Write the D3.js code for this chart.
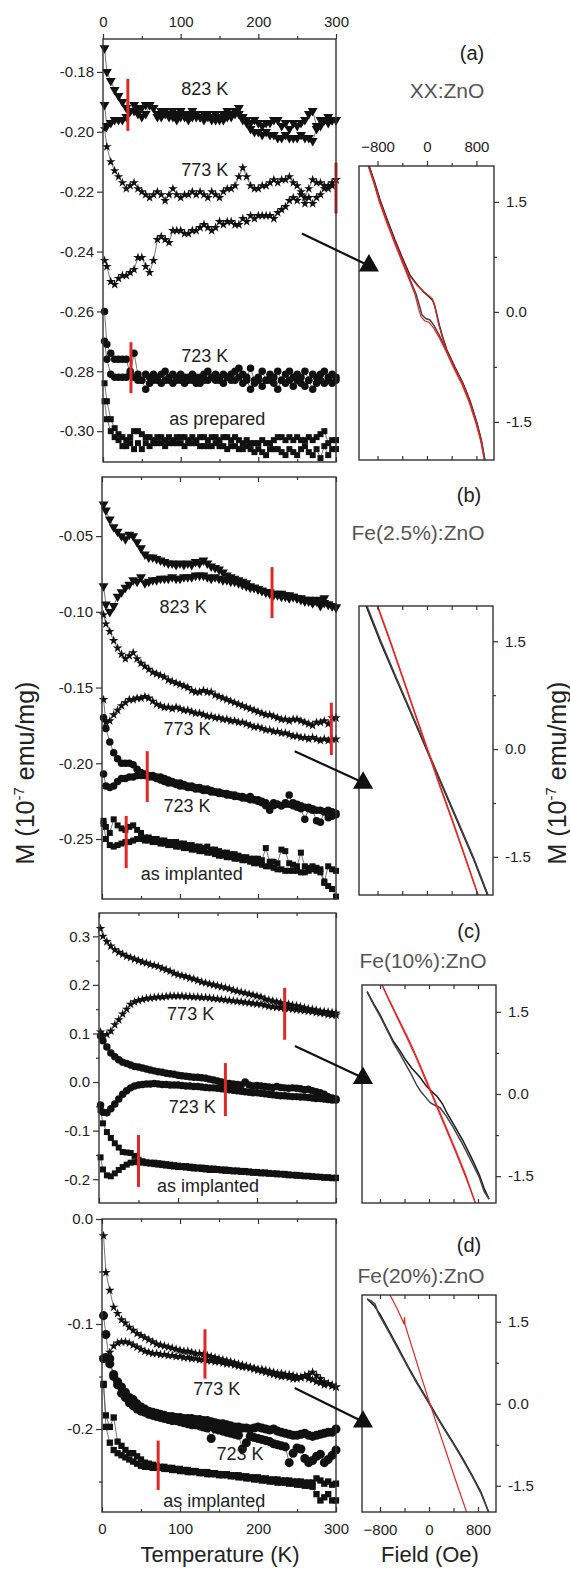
<!DOCTYPE html>
<html>
<head>
<meta charset="utf-8">
<script src="https://cdn.jsdelivr.net/npm/d3@7"></script>
<style>
body { margin: 0; background: #fff; }
svg text { font-family: "Liberation Sans", Arial, sans-serif; }
</style>
</head>
<body>
<svg id="fig" width="570" height="1574"></svg>
<script>

// temperature grid shared by every M(T) branch (K)
var temps = [2,5,10,15,20,25,30,35,40,45,
  50,55,60,65,70,75,80,85,90,95,
  100,105,110,115,120,125,130,135,140,145,
  150,155,160,165,170,175,180,185,190,195,
  200,205,210,215,220,225,230,235,240,245,
  250,255,260,265,270,275,280,285,290,295,300];

// ---- panel (a) XX:ZnO, M in 1e-7 emu/mg ----
var a823hi = [-0.172,-0.180,-0.183,-0.186,-0.188,-0.190,-0.192,-0.193,-0.191,-0.194,
  -0.192,-0.191,-0.191,-0.192,-0.194,-0.193,-0.193,-0.194,-0.193,-0.194,
  -0.193,-0.194,-0.194,-0.193,-0.194,-0.195,-0.194,-0.194,-0.195,-0.194,
  -0.195,-0.194,-0.193,-0.194,-0.193,-0.192,-0.195,-0.197,-0.199,-0.200,
  -0.200,-0.201,-0.200,-0.201,-0.201,-0.202,-0.202,-0.201,-0.202,-0.202,
  -0.202,-0.201,-0.202,-0.202,-0.203,-0.199,-0.198,-0.196,-0.197,-0.196,-0.196];
var a823lo = [-0.191,-0.198,-0.197,-0.196,-0.196,-0.196,-0.195,-0.193,-0.193,-0.192,
  -0.195,-0.194,-0.191,-0.192,-0.195,-0.195,-0.194,-0.195,-0.195,-0.196,
  -0.195,-0.195,-0.196,-0.195,-0.195,-0.195,-0.196,-0.195,-0.196,-0.196,
  -0.196,-0.196,-0.195,-0.195,-0.194,-0.194,-0.196,-0.196,-0.197,-0.196,
  -0.197,-0.198,-0.197,-0.197,-0.196,-0.196,-0.198,-0.197,-0.199,-0.197,
  -0.198,-0.197,-0.196,-0.194,-0.193,-0.198,-0.196,-0.196,-0.195,-0.196,-0.196];
var a773hi = [-0.199,-0.205,-0.210,-0.213,-0.215,-0.217,-0.219,-0.218,-0.217,-0.219,
  -0.220,-0.221,-0.222,-0.221,-0.220,-0.221,-0.223,-0.221,-0.219,-0.221,
  -0.222,-0.221,-0.221,-0.220,-0.221,-0.220,-0.221,-0.222,-0.220,-0.221,
  -0.222,-0.220,-0.219,-0.219,-0.218,-0.215,-0.212,-0.215,-0.218,-0.219,
  -0.219,-0.218,-0.218,-0.217,-0.216,-0.217,-0.216,-0.216,-0.215,-0.217,
  -0.218,-0.220,-0.222,-0.219,-0.216,-0.217,-0.217,-0.218,-0.219,-0.218,-0.216];
var a773lo = [-0.243,-0.245,-0.250,-0.251,-0.249,-0.248,-0.248,-0.247,-0.246,-0.242,
  -0.242,-0.245,-0.247,-0.243,-0.236,-0.235,-0.236,-0.237,-0.233,-0.233,
  -0.233,-0.234,-0.234,-0.233,-0.233,-0.232,-0.231,-0.232,-0.233,-0.232,
  -0.230,-0.231,-0.230,-0.230,-0.231,-0.231,-0.229,-0.230,-0.228,-0.229,
  -0.228,-0.228,-0.228,-0.228,-0.229,-0.227,-0.226,-0.225,-0.223,-0.222,
  -0.223,-0.221,-0.224,-0.222,-0.224,-0.222,-0.221,-0.219,-0.218,-0.217,-0.216];
var a723hi = [-0.260,-0.271,-0.274,-0.276,-0.276,-0.276,-0.276,-0.281,-0.274,-0.281,
  -0.283,-0.281,-0.282,-0.281,-0.282,-0.281,-0.280,-0.282,-0.281,-0.282,
  -0.281,-0.282,-0.282,-0.281,-0.282,-0.282,-0.281,-0.280,-0.282,-0.281,
  -0.282,-0.281,-0.282,-0.281,-0.280,-0.279,-0.281,-0.282,-0.279,-0.283,
  -0.282,-0.280,-0.283,-0.281,-0.282,-0.280,-0.283,-0.281,-0.280,-0.282,
  -0.281,-0.282,-0.280,-0.283,-0.281,-0.282,-0.281,-0.280,-0.282,-0.281,-0.282];
var a723lo = [-0.270,-0.276,-0.281,-0.282,-0.282,-0.282,-0.282,-0.280,-0.282,-0.283,
  -0.283,-0.286,-0.284,-0.283,-0.283,-0.284,-0.283,-0.283,-0.284,-0.283,
  -0.283,-0.284,-0.283,-0.283,-0.284,-0.284,-0.283,-0.283,-0.282,-0.283,
  -0.283,-0.284,-0.282,-0.283,-0.283,-0.282,-0.284,-0.283,-0.286,-0.284,
  -0.283,-0.285,-0.283,-0.283,-0.284,-0.286,-0.283,-0.284,-0.283,-0.285,
  -0.283,-0.284,-0.285,-0.283,-0.286,-0.284,-0.283,-0.284,-0.283,-0.284,-0.283];
var aPrepHi = [-0.284,-0.290,-0.296,-0.299,-0.301,-0.302,-0.303,-0.302,-0.300,-0.300,
  -0.301,-0.302,-0.302,-0.303,-0.302,-0.302,-0.303,-0.302,-0.303,-0.302,
  -0.302,-0.302,-0.303,-0.302,-0.303,-0.302,-0.302,-0.303,-0.302,-0.302,
  -0.303,-0.302,-0.302,-0.303,-0.302,-0.303,-0.304,-0.303,-0.304,-0.304,
  -0.304,-0.303,-0.304,-0.304,-0.303,-0.302,-0.302,-0.303,-0.302,-0.303,
  -0.302,-0.303,-0.303,-0.302,-0.303,-0.302,-0.301,-0.300,-0.304,-0.303,-0.303];
var aPrepLo = [-0.290,-0.296,-0.300,-0.302,-0.303,-0.305,-0.305,-0.304,-0.306,-0.304,
  -0.306,-0.304,-0.305,-0.304,-0.304,-0.304,-0.305,-0.304,-0.304,-0.304,
  -0.304,-0.305,-0.304,-0.304,-0.304,-0.305,-0.305,-0.305,-0.305,-0.304,
  -0.305,-0.305,-0.306,-0.305,-0.305,-0.306,-0.306,-0.305,-0.306,-0.307,
  -0.306,-0.307,-0.308,-0.306,-0.306,-0.306,-0.307,-0.308,-0.306,-0.307,
  -0.308,-0.306,-0.305,-0.307,-0.308,-0.306,-0.309,-0.305,-0.308,-0.306,-0.306];

// ---- panel (b) Fe(2.5%):ZnO ----
var b823hi = [-0.029,-0.033,-0.039,-0.044,-0.047,-0.050,-0.052,-0.049,-0.050,-0.054,
  -0.058,-0.062,-0.064,-0.064,-0.065,-0.066,-0.067,-0.068,-0.068,-0.069,
  -0.068,-0.069,-0.068,-0.069,-0.067,-0.068,-0.066,-0.068,-0.070,-0.071,
  -0.072,-0.074,-0.076,-0.077,-0.078,-0.079,-0.080,-0.081,-0.083,-0.084,
  -0.085,-0.086,-0.087,-0.088,-0.089,-0.089,-0.090,-0.090,-0.091,-0.090,
  -0.091,-0.092,-0.093,-0.092,-0.094,-0.093,-0.096,-0.091,-0.095,-0.096,-0.097];
var b823lo = [-0.083,-0.095,-0.100,-0.096,-0.090,-0.087,-0.084,-0.082,-0.079,-0.080,
  -0.077,-0.081,-0.080,-0.079,-0.079,-0.078,-0.078,-0.078,-0.077,-0.078,
  -0.078,-0.077,-0.077,-0.077,-0.076,-0.076,-0.076,-0.077,-0.078,-0.077,
  -0.078,-0.079,-0.079,-0.080,-0.080,-0.081,-0.082,-0.083,-0.084,-0.084,
  -0.085,-0.086,-0.087,-0.087,-0.088,-0.088,-0.088,-0.089,-0.089,-0.090,
  -0.091,-0.091,-0.092,-0.093,-0.094,-0.092,-0.093,-0.094,-0.095,-0.096,-0.097];
var b773hi = [-0.102,-0.108,-0.113,-0.119,-0.124,-0.128,-0.131,-0.129,-0.127,-0.131,
  -0.134,-0.136,-0.138,-0.140,-0.141,-0.142,-0.143,-0.145,-0.146,-0.147,
  -0.148,-0.149,-0.150,-0.152,-0.153,-0.153,-0.152,-0.153,-0.153,-0.155,
  -0.156,-0.157,-0.158,-0.159,-0.160,-0.161,-0.162,-0.163,-0.164,-0.165,
  -0.166,-0.167,-0.168,-0.168,-0.169,-0.170,-0.171,-0.171,-0.172,-0.171,
  -0.171,-0.172,-0.173,-0.174,-0.175,-0.173,-0.173,-0.172,-0.174,-0.170,-0.170];
var b773lo = [-0.158,-0.173,-0.172,-0.168,-0.165,-0.162,-0.160,-0.158,-0.158,-0.157,
  -0.157,-0.156,-0.157,-0.159,-0.161,-0.162,-0.163,-0.163,-0.164,-0.163,
  -0.164,-0.165,-0.165,-0.166,-0.167,-0.167,-0.168,-0.169,-0.169,-0.170,
  -0.170,-0.171,-0.171,-0.172,-0.172,-0.173,-0.173,-0.174,-0.175,-0.176,
  -0.176,-0.177,-0.178,-0.178,-0.179,-0.179,-0.180,-0.180,-0.181,-0.182,
  -0.182,-0.183,-0.183,-0.184,-0.183,-0.184,-0.185,-0.184,-0.185,-0.184,-0.184];
var b723hi = [-0.170,-0.177,-0.186,-0.193,-0.197,-0.200,-0.200,-0.200,-0.201,-0.204,
  -0.206,-0.207,-0.208,-0.208,-0.209,-0.209,-0.210,-0.211,-0.212,-0.213,
  -0.213,-0.214,-0.215,-0.215,-0.216,-0.216,-0.217,-0.217,-0.218,-0.219,
  -0.219,-0.220,-0.220,-0.221,-0.221,-0.222,-0.222,-0.223,-0.222,-0.224,
  -0.224,-0.225,-0.226,-0.231,-0.226,-0.227,-0.228,-0.226,-0.221,-0.228,
  -0.229,-0.230,-0.237,-0.230,-0.231,-0.238,-0.239,-0.232,-0.236,-0.235,-0.234];
var b723lo = [-0.207,-0.215,-0.216,-0.215,-0.212,-0.210,-0.210,-0.209,-0.209,-0.208,
  -0.208,-0.208,-0.209,-0.209,-0.210,-0.211,-0.212,-0.213,-0.213,-0.214,
  -0.215,-0.215,-0.216,-0.216,-0.217,-0.217,-0.218,-0.218,-0.219,-0.219,
  -0.220,-0.220,-0.221,-0.221,-0.222,-0.222,-0.223,-0.223,-0.224,-0.224,
  -0.225,-0.226,-0.228,-0.228,-0.228,-0.227,-0.228,-0.227,-0.227,-0.226,
  -0.227,-0.228,-0.229,-0.229,-0.230,-0.231,-0.231,-0.232,-0.231,-0.232,-0.233];
var bImpHi = [-0.238,-0.242,-0.246,-0.237,-0.241,-0.243,-0.244,-0.242,-0.241,-0.244,
  -0.246,-0.249,-0.249,-0.250,-0.250,-0.251,-0.251,-0.252,-0.252,-0.252,
  -0.253,-0.253,-0.254,-0.254,-0.255,-0.255,-0.256,-0.255,-0.257,-0.257,
  -0.258,-0.259,-0.259,-0.260,-0.260,-0.261,-0.262,-0.262,-0.263,-0.263,
  -0.263,-0.264,-0.256,-0.265,-0.265,-0.266,-0.257,-0.258,-0.266,-0.267,
  -0.268,-0.259,-0.268,-0.269,-0.268,-0.269,-0.270,-0.278,-0.268,-0.270,-0.271];
var bImpLo = [-0.240,-0.250,-0.254,-0.255,-0.254,-0.253,-0.252,-0.252,-0.251,-0.250,
  -0.250,-0.251,-0.251,-0.252,-0.252,-0.253,-0.253,-0.254,-0.254,-0.255,
  -0.255,-0.256,-0.256,-0.257,-0.257,-0.258,-0.258,-0.259,-0.259,-0.260,
  -0.261,-0.261,-0.262,-0.262,-0.263,-0.263,-0.264,-0.264,-0.265,-0.266,
  -0.266,-0.267,-0.268,-0.268,-0.269,-0.270,-0.270,-0.271,-0.271,-0.271,
  -0.271,-0.272,-0.272,-0.271,-0.270,-0.271,-0.272,-0.279,-0.281,-0.283,-0.288];

// ---- panel (c) Fe(10%):ZnO ----
var c773hi = [0.316,0.300,0.289,0.280,0.272,0.267,0.263,0.259,0.256,0.253,
  0.250,0.247,0.245,0.242,0.240,0.238,0.234,0.231,0.228,0.224,
  0.221,0.219,0.217,0.214,0.212,0.209,0.206,0.204,0.202,0.200,
  0.198,0.196,0.194,0.192,0.189,0.187,0.185,0.183,0.181,0.179,
  0.177,0.175,0.171,0.169,0.167,0.165,0.163,0.162,0.160,0.158,
  0.157,0.155,0.153,0.151,0.150,0.148,0.146,0.145,0.144,0.143,0.142];
var c773lo = [0.103,0.097,0.098,0.105,0.118,0.128,0.140,0.150,0.160,0.165,
  0.168,0.170,0.172,0.173,0.174,0.175,0.175,0.176,0.177,0.177,
  0.177,0.177,0.176,0.176,0.175,0.175,0.174,0.174,0.173,0.172,
  0.171,0.170,0.169,0.168,0.167,0.166,0.165,0.164,0.163,0.162,
  0.161,0.160,0.158,0.156,0.155,0.154,0.153,0.152,0.151,0.150,
  0.149,0.148,0.147,0.146,0.145,0.143,0.142,0.141,0.139,0.138,0.138];
var c723hi = [0.095,0.085,0.072,0.060,0.052,0.046,0.041,0.038,0.035,0.032,
  0.031,0.029,0.027,0.025,0.023,0.021,0.020,0.018,0.017,0.016,
  0.014,0.013,0.012,0.011,0.010,0.010,0.009,0.008,0.006,0.004,
  0.002,0.000,-0.002,-0.003,-0.004,-0.005,-0.006,0.000,-0.006,-0.008,
  -0.007,-0.008,-0.009,-0.010,-0.011,-0.009,-0.011,-0.012,-0.013,-0.012,
  -0.013,-0.014,-0.016,-0.015,-0.018,-0.020,-0.022,-0.025,-0.030,-0.033,-0.035];
var c723lo = [-0.047,-0.062,-0.063,-0.055,-0.045,-0.035,-0.025,-0.018,-0.012,-0.008,
  -0.006,-0.005,-0.004,-0.004,-0.003,-0.004,-0.005,-0.005,-0.006,-0.006,
  -0.006,-0.007,-0.008,-0.008,-0.009,-0.009,-0.010,-0.011,-0.012,-0.012,
  -0.013,-0.014,-0.015,-0.016,-0.017,-0.018,-0.019,-0.020,-0.021,-0.022,
  -0.022,-0.023,-0.024,-0.025,-0.026,-0.027,-0.028,-0.028,-0.029,-0.030,
  -0.030,-0.031,-0.031,-0.032,-0.033,-0.034,-0.034,-0.035,-0.036,-0.037,-0.037];
var cImpHi = [-0.058,-0.085,-0.103,-0.115,-0.126,-0.135,-0.144,-0.145,-0.146,-0.152,
  -0.160,-0.163,-0.165,-0.166,-0.166,-0.167,-0.168,-0.169,-0.170,-0.171,
  -0.172,-0.173,-0.173,-0.174,-0.175,-0.176,-0.176,-0.177,-0.178,-0.178,
  -0.179,-0.180,-0.180,-0.181,-0.182,-0.182,-0.183,-0.183,-0.184,-0.185,
  -0.185,-0.186,-0.186,-0.187,-0.188,-0.188,-0.189,-0.189,-0.190,-0.191,
  -0.191,-0.192,-0.193,-0.193,-0.194,-0.195,-0.195,-0.196,-0.196,-0.197,-0.197];
var cImpLo = [-0.155,-0.180,-0.192,-0.194,-0.188,-0.181,-0.175,-0.170,-0.166,-0.165,
  -0.165,-0.166,-0.167,-0.168,-0.169,-0.170,-0.171,-0.172,-0.173,-0.174,
  -0.175,-0.175,-0.176,-0.177,-0.178,-0.178,-0.179,-0.180,-0.181,-0.181,
  -0.181,-0.182,-0.183,-0.183,-0.184,-0.184,-0.185,-0.185,-0.186,-0.187,
  -0.187,-0.188,-0.188,-0.189,-0.189,-0.190,-0.190,-0.191,-0.192,-0.192,
  -0.193,-0.193,-0.194,-0.194,-0.195,-0.195,-0.196,-0.197,-0.197,-0.198,-0.198];

// ---- panel (d) Fe(20%):ZnO ----
var d773hi = [-0.016,-0.051,-0.068,-0.084,-0.090,-0.096,-0.099,-0.103,-0.106,-0.109,
  -0.111,-0.113,-0.115,-0.117,-0.119,-0.120,-0.121,-0.122,-0.123,-0.124,
  -0.125,-0.126,-0.126,-0.127,-0.128,-0.128,-0.129,-0.130,-0.131,-0.132,
  -0.133,-0.134,-0.135,-0.136,-0.137,-0.138,-0.139,-0.140,-0.141,-0.142,
  -0.143,-0.143,-0.144,-0.145,-0.146,-0.147,-0.147,-0.148,-0.148,-0.149,
  -0.150,-0.151,-0.150,-0.148,-0.146,-0.149,-0.152,-0.155,-0.157,-0.158,-0.160];
var d773lo = [-0.132,-0.133,-0.127,-0.121,-0.118,-0.117,-0.117,-0.118,-0.120,-0.122,
  -0.124,-0.126,-0.127,-0.128,-0.128,-0.129,-0.129,-0.130,-0.130,-0.131,
  -0.131,-0.132,-0.132,-0.133,-0.133,-0.134,-0.134,-0.135,-0.135,-0.136,
  -0.136,-0.137,-0.138,-0.138,-0.139,-0.140,-0.141,-0.141,-0.142,-0.143,
  -0.144,-0.145,-0.146,-0.147,-0.148,-0.149,-0.150,-0.150,-0.151,-0.152,
  -0.152,-0.151,-0.149,-0.152,-0.153,-0.155,-0.156,-0.158,-0.157,-0.159,-0.160];
var d723hi = [-0.092,-0.110,-0.138,-0.148,-0.155,-0.160,-0.165,-0.170,-0.172,-0.176,
  -0.179,-0.181,-0.183,-0.184,-0.185,-0.186,-0.187,-0.188,-0.188,-0.189,
  -0.189,-0.190,-0.190,-0.190,-0.191,-0.191,-0.192,-0.192,-0.193,-0.194,
  -0.195,-0.195,-0.196,-0.197,-0.198,-0.198,-0.199,-0.199,-0.200,-0.199,
  -0.198,-0.199,-0.200,-0.201,-0.200,-0.202,-0.203,-0.204,-0.205,-0.206,
  -0.206,-0.205,-0.204,-0.206,-0.207,-0.206,-0.205,-0.204,-0.203,-0.203,-0.200];
var d723lo = [-0.133,-0.132,-0.133,-0.150,-0.158,-0.166,-0.170,-0.175,-0.178,-0.181,
  -0.183,-0.184,-0.186,-0.187,-0.188,-0.189,-0.190,-0.191,-0.192,-0.192,
  -0.193,-0.194,-0.195,-0.196,-0.196,-0.197,-0.198,-0.199,-0.209,-0.200,
  -0.201,-0.202,-0.203,-0.204,-0.205,-0.206,-0.219,-0.213,-0.207,-0.208,
  -0.209,-0.210,-0.211,-0.212,-0.214,-0.215,-0.216,-0.217,-0.232,-0.223,
  -0.218,-0.219,-0.228,-0.232,-0.230,-0.226,-0.224,-0.232,-0.229,-0.225,-0.220];
var dImpHi = [-0.158,-0.187,-0.198,-0.189,-0.212,-0.216,-0.220,-0.223,-0.223,-0.226,
  -0.229,-0.232,-0.233,-0.234,-0.235,-0.236,-0.236,-0.237,-0.237,-0.238,
  -0.238,-0.239,-0.239,-0.240,-0.240,-0.241,-0.241,-0.241,-0.242,-0.242,
  -0.243,-0.243,-0.243,-0.244,-0.244,-0.244,-0.245,-0.245,-0.246,-0.246,
  -0.246,-0.247,-0.247,-0.248,-0.248,-0.248,-0.249,-0.249,-0.249,-0.250,
  -0.250,-0.250,-0.251,-0.251,-0.251,-0.247,-0.249,-0.252,-0.250,-0.253,-0.252];
var dImpLo = [-0.157,-0.198,-0.213,-0.220,-0.223,-0.225,-0.227,-0.229,-0.231,-0.233,
  -0.235,-0.236,-0.236,-0.237,-0.237,-0.237,-0.238,-0.238,-0.239,-0.239,
  -0.240,-0.240,-0.241,-0.241,-0.241,-0.242,-0.242,-0.243,-0.243,-0.243,
  -0.244,-0.244,-0.244,-0.245,-0.245,-0.246,-0.246,-0.247,-0.247,-0.248,
  -0.248,-0.249,-0.249,-0.250,-0.250,-0.251,-0.251,-0.251,-0.252,-0.252,
  -0.253,-0.253,-0.254,-0.254,-0.255,-0.262,-0.268,-0.265,-0.262,-0.268,-0.268];

// red markers [T, M from, M to]
var barsA = [[32,-0.1823,-0.1997],[300,-0.2103,-0.2273],[36,-0.2703,-0.2873]];
var barsB = [[218,-0.0705,-0.1041],[294,-0.160,-0.1946],[58,-0.192,-0.2256],[31,-0.2348,-0.2692]];
var barsC = [[235,0.194,0.087],[160,0.039,-0.070],[50,-0.109,-0.216]];
var barsD = [[132,-0.105,-0.152],[72,-0.211,-0.258]];

// curve names [text, T, M]
var namesA = [["823 K",131,-0.1877],["773 K",131,-0.2147],["723 K",131,-0.277],["as prepared",147,-0.298]];
var namesB = [["823 K",104,-0.1008],["773 K",109,-0.1814],["723 K",109,-0.2322],["as implanted",115,-0.277]];
var namesC = [["773 K",116,0.128],["723 K",118,-0.064],["as implanted",138,-0.227]];
var namesD = [["773 K",147,-0.1676],["723 K",177,-0.2295],["as implanted",144,-0.274]];

var tempTicks = [0,100,200,300];
var tempMinor = [50,150,250];

// ---- hysteresis insets, [field Oe, M] ----
var loopAk1 = [[-937,1.99],[-850,1.78],[-760,1.53],[-640,1.25],[-517,0.98],[-400,0.74],[-275,0.50],[-150,0.36],[-40,0.26],[40,0.20],[90,0.16],[120,0.10],[150,0.0],[200,-0.18],[260,-0.36],[323,-0.52],[450,-0.75],[582,-0.97],[700,-1.22],[808,-1.51],[880,-1.75],[937,-2.02]];
var loopAk2 = [[-937,1.99],[-850,1.76],[-760,1.50],[-640,1.22],[-517,0.95],[-400,0.70],[-275,0.44],[-180,0.25],[-120,0.08],[-81,-0.04],[-20,-0.09],[48,-0.11],[110,-0.18],[200,-0.32],[323,-0.54],[450,-0.77],[582,-0.99],[700,-1.24],[808,-1.53],[880,-1.76],[937,-2.02]];
var loopAr1 = [[-950,1.99],[-862,1.78],[-772,1.53],[-652,1.25],[-530,0.98],[-412,0.74],[-288,0.50],[-165,0.37],[-55,0.28],[30,0.22],[85,0.18],[112,0.12],[140,0.02],[190,-0.17],[250,-0.35],[315,-0.52],[440,-0.75],[572,-0.97],[690,-1.22],[800,-1.51],[872,-1.75],[930,-2.02]];
var loopAr2 = [[-950,1.99],[-862,1.76],[-772,1.50],[-652,1.22],[-530,0.95],[-412,0.70],[-288,0.44],[-195,0.24],[-140,0.06],[-100,-0.06],[-40,-0.12],[30,-0.14],[100,-0.21],[192,-0.34],[315,-0.55],[440,-0.78],[572,-1.00],[690,-1.25],[800,-1.54],[872,-1.77],[930,-2.02]];

var loopBk1 = [[-990,2.0],[-760,1.5],[-500,0.98],[-250,0.48],[0,-0.02],[250,-0.52],[500,-1.02],[750,-1.52],[980,-2.03]];
var loopBk2 = [[-975,2.0],[-745,1.5],[-490,0.98],[-240,0.48],[10,-0.02],[260,-0.52],[510,-1.02],[760,-1.52],[990,-2.03]];
var loopBr1 = [[-810,2.0],[-600,1.5],[-400,1.0],[-200,0.5],[0,0.0],[200,-0.5],[410,-1.0],[620,-1.52],[825,-2.03]];
var loopBr2 = [[-800,2.0],[-590,1.5],[-390,1.0],[-190,0.5],[10,0.0],[210,-0.5],[420,-1.0],[630,-1.52],[830,-2.03]];

var loopCk1 = [[-1010,1.87],[-900,1.64],[-800,1.45],[-700,1.22],[-590,0.98],[-480,0.80],[-380,0.62],[-280,0.47],[-150,0.31],[-40,0.14],[60,0.03],[130,-0.04],[220,-0.18],[300,-0.36],[400,-0.55],[550,-0.84],[700,-1.18],[820,-1.47],[900,-1.72],[980,-1.92]];
var loopCk2 = [[-1010,1.87],[-900,1.62],[-800,1.42],[-700,1.20],[-590,0.95],[-480,0.74],[-380,0.54],[-280,0.34],[-200,0.16],[-130,0.04],[-40,-0.08],[20,-0.16],[100,-0.21],[180,-0.25],[280,-0.40],[400,-0.62],[550,-0.92],[700,-1.25],[820,-1.52],[900,-1.78],[980,-1.92]];
var loopCr1 = [[-770,2.0],[-650,1.72],[-500,1.38],[-350,1.04],[-250,0.80],[-150,0.54],[-60,0.30],[0,0.14],[60,-0.02],[150,-0.26],[300,-0.66],[450,-1.06],[600,-1.48],[770,-2.03]];
var loopCr2 = [[-770,2.0],[-650,1.70],[-500,1.35],[-350,1.00],[-250,0.76],[-150,0.50],[-60,0.26],[0,0.10],[60,-0.05],[150,-0.30],[300,-0.70],[450,-1.10],[600,-1.52],[770,-2.03]];

var loopDk1 = [[-1010,1.92],[-900,1.80],[-800,1.64],[-650,1.33],[-500,1.02],[-350,0.70],[-200,0.40],[-50,0.12],[100,-0.17],[250,-0.45],[400,-0.72],[550,-1.00],[700,-1.30],[850,-1.62],[980,-2.0]];
var loopDk2 = [[-1010,1.92],[-940,1.88],[-880,1.82],[-830,1.66],[-790,1.58],[-650,1.30],[-500,0.99],[-350,0.68],[-200,0.38],[-50,0.10],[100,-0.19],[250,-0.47],[400,-0.74],[550,-1.02],[700,-1.32],[850,-1.64],[980,-2.0]];
var loopDr1 = [[-640,2.0],[-520,1.74],[-430,1.52],[-410,1.46],[-400,1.58],[-392,1.45],[-300,1.12],[-150,0.58],[0,0.05],[150,-0.45],[300,-0.95],[450,-1.45],[620,-2.0]];

var fieldTicks = [-800,0,800];
var fieldMinor = [-400,400];
var loopTicks = [-1.5,0,1.5];
var loopMinor = [-0.75,0.75];

var svg = d3.select("#fig");
var ink = "#222";
var red = "#e02828";

var symType = {tri: d3.symbolTriangle, star: d3.symbolStar, circle: d3.symbolCircle, square: d3.symbolSquare};
var symSize = {tri: 42, star: 28, circle: 44, square: 36};

var panels = [
  {left:103, right:336, top:39, bottom:462, yDom:[-0.3103,-0.169], yTicks:[-0.30,-0.28,-0.26,-0.24,-0.22,-0.20,-0.18], yMinor:[], dec:2, topLabels:true,
   series:[{m:a823hi,s:"tri"},{m:a823lo,s:"tri"},{m:a773hi,s:"star"},{m:a773lo,s:"star"},{m:a723hi,s:"circle"},{m:a723lo,s:"circle"},{m:aPrepHi,s:"square"},{m:aPrepLo,s:"square"}],
   bars:barsA, names:namesA},
  {left:102, right:336, top:477, bottom:899, yDom:[-0.2896,-0.011], yTicks:[-0.25,-0.20,-0.15,-0.10,-0.05], yMinor:[], dec:2,
   series:[{m:b823hi,s:"tri"},{m:b823lo,s:"tri"},{m:b773hi,s:"star"},{m:b773lo,s:"star"},{m:b723hi,s:"circle"},{m:b723lo,s:"circle"},{m:bImpHi,s:"square"},{m:bImpLo,s:"square"}],
   bars:barsB, names:namesB},
  {left:99, right:336, top:913, bottom:1203, yDom:[-0.249,0.348], yTicks:[-0.2,-0.1,0.0,0.1,0.2,0.3], yMinor:[-0.15,-0.05,0.05,0.15,0.25], dec:1,
   series:[{m:c773hi,s:"star"},{m:c773lo,s:"star"},{m:c723hi,s:"circle"},{m:c723lo,s:"circle"},{m:cImpHi,s:"square"},{m:cImpLo,s:"square"}],
   bars:barsC, names:namesC},
  {left:102, right:336, top:1219, bottom:1512, yDom:[-0.279,0.0], yTicks:[-0.2,-0.1,0.0], yMinor:[-0.25,-0.15,-0.05], dec:1, bottomLabels:true,
   series:[{m:d773hi,s:"star"},{m:d773lo,s:"star"},{m:d723hi,s:"circle",size:64},{m:d723lo,s:"circle",size:64},{m:dImpHi,s:"square",size:40},{m:dImpLo,s:"square",size:40}],
   bars:barsD, names:namesD}
];

var insets = [
  {left:359, right:494, top:166, bottom:460, hDom:[-1100,1085], mDom:[-2.02,1.99], topLabels:true,
   black:[loopAk1,loopAk2], red:[loopAr1,loopAr2]},
  {left:359, right:493, top:606, bottom:895, hDom:[-1100,1070], mDom:[-2.03,1.99],
   black:[loopBk1,loopBk2], red:[loopBr1,loopBr2]},
  {left:362, right:496, top:985, bottom:1203, hDom:[-1094,1094], mDom:[-1.99,1.99],
   black:[loopCk1,loopCk2], red:[loopCr1,loopCr2]},
  {left:362, right:496, top:1295, bottom:1512, hDom:[-1094,1094], mDom:[-1.98,1.99], bottomLabels:true,
   black:[loopDk1,loopDk2], red:[loopDr1]}
];

// arrows from a point on the M(T) curve to the matching loop inset
var arrows = [
  {t:256, m:-0.234, h:-940, mi:0.63},
  {t:247, m:-0.192, h:-1034, mi:-0.47},
  {t:248, m:0.074, h:-1078, mi:0.29},
  {t:247, m:-0.161, h:-1078, mi:-0.33}
];

function styleAxis(g) {
  g.select(".domain").remove();
  g.attr("font-size", 15).attr("font-family", "Liberation Sans, Arial, sans-serif");
  g.selectAll(".tick line").attr("stroke", "#333").attr("stroke-width", 1.2);
  g.selectAll(".tick text").attr("fill", ink);
}

function fmt(dec) { return function(d) { return d.toFixed(dec); }; }

panels.forEach(function(p) {
  var x = d3.scaleLinear().domain([0, 300]).range([p.left, p.right]);
  var y = d3.scaleLinear().domain(p.yDom).range([p.bottom, p.top]);
  p.x = x; p.y = y;
  var g = svg.append("g");

  var line = d3.line()
    .x(function(d, i) { return x(temps[i]); })
    .y(function(d) { return y(d); });

  p.series.forEach(function(s) {
    g.append("path").datum(s.m)
      .attr("d", line)
      .attr("fill", "none")
      .attr("stroke", "#555")
      .attr("stroke-width", 0.8);
  });
  p.series.forEach(function(s) {
    var sym = d3.symbol().type(symType[s.s]).size(s.size || symSize[s.s]);
    g.selectAll(null).data(s.m).enter().append("path")
      .attr("d", sym)
      .attr("fill", "#111")
      .attr("transform", function(d, i) {
        return "translate(" + x(temps[i]) + "," + y(d) + ")" + (s.s == "tri" ? " rotate(180)" : "");
      });
  });

  g.selectAll(null).data(p.bars).enter().append("line")
    .attr("x1", function(d) { return x(d[0]); })
    .attr("x2", function(d) { return x(d[0]); })
    .attr("y1", function(d) { return y(d[1]); })
    .attr("y2", function(d) { return y(d[2]); })
    .attr("stroke", red)
    .attr("stroke-width", 3);

  g.selectAll(null).data(p.names).enter().append("text")
    .attr("x", function(d) { return x(d[1]); })
    .attr("y", function(d) { return y(d[2]); })
    .attr("text-anchor", "middle")
    .attr("font-size", 18)
    .attr("fill", ink)
    .text(function(d) { return d[0]; });

  g.append("rect")
    .attr("x", p.left).attr("y", p.top)
    .attr("width", p.right - p.left).attr("height", p.bottom - p.top)
    .attr("fill", "none").attr("stroke", "#333").attr("stroke-width", 1.4);

  // left axis
  g.append("g").attr("transform", "translate(" + p.left + ",0)")
    .call(d3.axisLeft(y).tickValues(p.yTicks).tickFormat(fmt(p.dec)).tickSize(6).tickPadding(3))
    .call(styleAxis);
  g.append("g").attr("transform", "translate(" + p.left + ",0)")
    .call(d3.axisLeft(y).tickValues(p.yMinor).tickFormat("").tickSize(3))
    .call(styleAxis);

  // top axis
  if (p.topLabels) {
    g.append("g").attr("transform", "translate(0," + p.top + ")")
      .call(d3.axisTop(x).tickValues(tempTicks).tickSize(5).tickPadding(7))
      .call(styleAxis);
    g.append("g").attr("transform", "translate(0," + p.top + ")")
      .call(d3.axisTop(x).tickValues(tempMinor).tickFormat("").tickSize(3))
      .call(styleAxis);
  } else {
    g.append("g").attr("transform", "translate(0," + p.top + ")")
      .call(d3.axisBottom(x).tickValues(tempTicks).tickFormat("").tickSize(5))
      .call(styleAxis);
    g.append("g").attr("transform", "translate(0," + p.top + ")")
      .call(d3.axisBottom(x).tickValues(tempMinor).tickFormat("").tickSize(3))
      .call(styleAxis);
  }
  // bottom axis, ticks point inward
  if (p.bottomLabels) {
    g.append("g").attr("transform", "translate(0," + p.bottom + ")")
      .call(d3.axisBottom(x).tickValues(tempTicks).tickSize(-5).tickPadding(11))
      .call(styleAxis);
  } else {
    g.append("g").attr("transform", "translate(0," + p.bottom + ")")
      .call(d3.axisTop(x).tickValues(tempTicks).tickFormat("").tickSize(5))
      .call(styleAxis);
  }
  g.append("g").attr("transform", "translate(0," + p.bottom + ")")
    .call(d3.axisTop(x).tickValues(tempMinor).tickFormat("").tickSize(3))
    .call(styleAxis);
});

insets.forEach(function(p, k) {
  var x = d3.scaleLinear().domain(p.hDom).range([p.left, p.right]);
  var y = d3.scaleLinear().domain(p.mDom).range([p.bottom, p.top]);
  p.x = x; p.y = y;
  var g = svg.append("g");

  svg.append("clipPath").attr("id", "clip" + k)
    .append("rect")
    .attr("x", p.left).attr("y", p.top)
    .attr("width", p.right - p.left).attr("height", p.bottom - p.top);

  var line = d3.line()
    .x(function(d) { return x(d[0]); })
    .y(function(d) { return y(d[1]); });
  var curves = g.append("g").attr("clip-path", "url(#clip" + k + ")");
  p.black.forEach(function(c, i) {
    curves.append("path").datum(c).attr("d", line)
      .attr("fill", "none")
      .attr("stroke", i == 0 ? "#1a1a1a" : "#444")
      .attr("stroke-width", 1.5);
  });
  p.red.forEach(function(c) {
    curves.append("path").datum(c).attr("d", line)
      .attr("fill", "none")
      .attr("stroke", red)
      .attr("stroke-width", 1.2);
  });

  g.append("rect")
    .attr("x", p.left).attr("y", p.top)
    .attr("width", p.right - p.left).attr("height", p.bottom - p.top)
    .attr("fill", "none").attr("stroke", "#333").attr("stroke-width", 1.4);

  g.append("g").attr("transform", "translate(" + p.right + ",0)")
    .call(d3.axisRight(y).tickValues(loopTicks).tickFormat(fmt(1)).tickSize(5).tickPadding(7))
    .call(styleAxis);
  g.append("g").attr("transform", "translate(" + p.right + ",0)")
    .call(d3.axisRight(y).tickValues(loopMinor).tickFormat("").tickSize(3))
    .call(styleAxis);

  if (p.topLabels) {
    g.append("g").attr("transform", "translate(0," + p.top + ")")
      .call(d3.axisTop(x).tickValues(fieldTicks).tickSize(5).tickPadding(9))
      .call(styleAxis);
    g.append("g").attr("transform", "translate(0," + p.top + ")")
      .call(d3.axisTop(x).tickValues(fieldMinor).tickFormat("").tickSize(3))
      .call(styleAxis);
  } else {
    g.append("g").attr("transform", "translate(0," + p.top + ")")
      .call(d3.axisBottom(x).tickValues(fieldTicks.concat(fieldMinor)).tickFormat("").tickSize(4))
      .call(styleAxis);
  }
  if (p.bottomLabels) {
    g.append("g").attr("transform", "translate(0," + p.bottom + ")")
      .call(d3.axisBottom(x).tickValues(fieldTicks).tickSize(-5).tickPadding(12))
      .call(styleAxis);
    g.append("g").attr("transform", "translate(0," + p.bottom + ")")
      .call(d3.axisTop(x).tickValues(fieldMinor).tickFormat("").tickSize(4))
      .call(styleAxis);
  } else {
    g.append("g").attr("transform", "translate(0," + p.bottom + ")")
      .call(d3.axisTop(x).tickValues(fieldTicks.concat(fieldMinor)).tickFormat("").tickSize(4))
      .call(styleAxis);
  }
});

// arrows
arrows.forEach(function(a, k) {
  var p = panels[k], q = insets[k];
  var x1 = p.x(a.t), y1 = p.y(a.m), x2 = q.x(a.h), y2 = q.y(a.mi);
  svg.append("line")
    .attr("x1", x1).attr("y1", y1).attr("x2", x2 - 4).attr("y2", y2 - 2)
    .attr("stroke", "#111").attr("stroke-width", 2.2);
  svg.append("path")
    .attr("d", d3.symbol().type(d3.symbolTriangle).size(175)())
    .attr("transform", "translate(" + x2 + "," + y2 + ")")
    .attr("fill", "#111");
});

// panel letters and sample names
var captions = [
  {t:"(a)", x:472, y:60, s:20, c:ink},
  {t:"XX:ZnO", x:447, y:98, s:21, c:"#555"},
  {t:"(b)", x:469, y:502, s:20, c:ink},
  {t:"Fe(2.5%):ZnO", x:418, y:540, s:21, c:"#555"},
  {t:"(c)", x:469, y:938, s:20, c:ink},
  {t:"Fe(10%):ZnO", x:423, y:968, s:21, c:"#555"},
  {t:"(d)", x:469, y:1252, s:20, c:ink},
  {t:"Fe(20%):ZnO", x:421, y:1283, s:21, c:"#555"}
];
svg.selectAll(null).data(captions).enter().append("text")
  .attr("x", function(d) { return d.x; })
  .attr("y", function(d) { return d.y; })
  .attr("text-anchor", "middle")
  .attr("font-size", function(d) { return d.s; })
  .attr("fill", function(d) { return d.c; })
  .text(function(d) { return d.t; });

// axis titles
svg.append("text").attr("x", 220).attr("y", 1562).attr("text-anchor", "middle")
  .attr("font-size", 22).attr("fill", ink).text("Temperature (K)");
svg.append("text").attr("x", 430).attr("y", 1562).attr("text-anchor", "middle")
  .attr("font-size", 22).attr("fill", ink).text("Field (Oe)");

[34, 566].forEach(function(px) {
  var t = svg.append("text")
    .attr("transform", "translate(" + px + ",773) rotate(-90)")
    .attr("text-anchor", "middle")
    .attr("font-size", 25)
    .attr("fill", ink);
  t.append("tspan").text("M (10");
  t.append("tspan").attr("dy", -10).attr("font-size", 15).text("-7");
  t.append("tspan").attr("dy", 10).text(" emu/mg)");
});

</script>
</body>
</html>
